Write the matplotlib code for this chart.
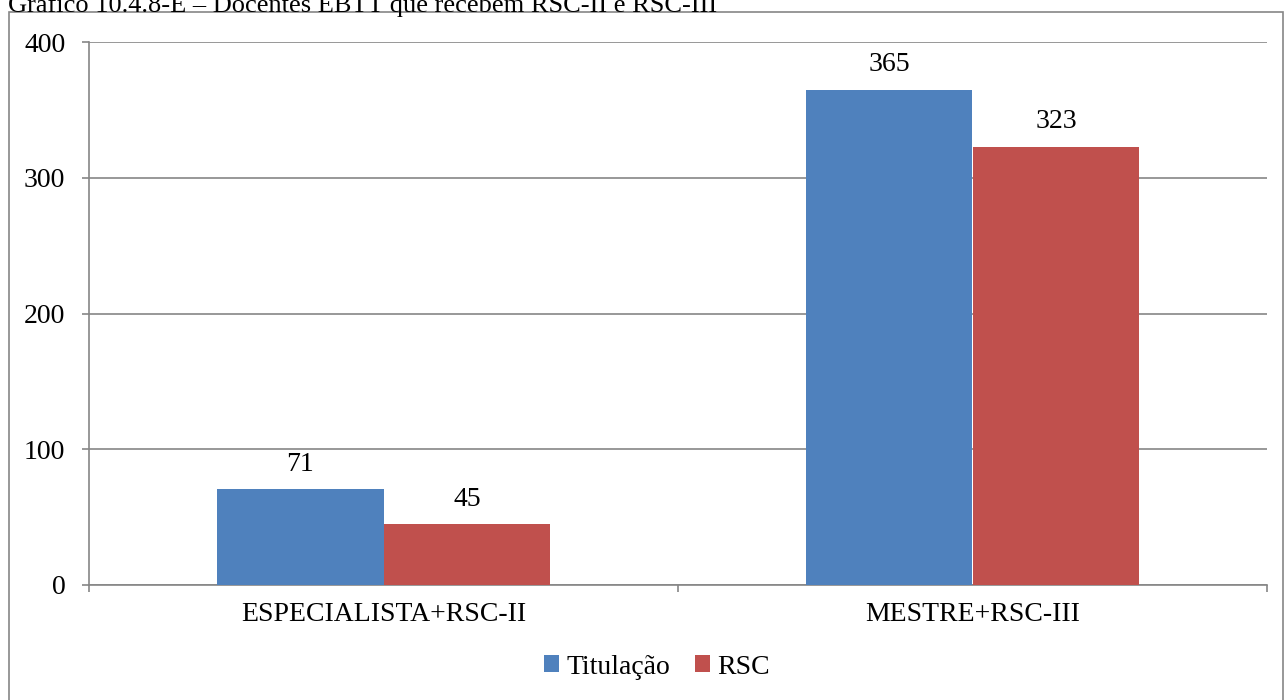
import matplotlib
matplotlib.use("Agg")
import matplotlib.pyplot as plt
from matplotlib.patches import Rectangle
import numpy as np

title = "Gráfico 10.4.8-E – Docentes EBTT que recebem RSC-II e RSC-III"
categories = ["ESPECIALISTA+RSC-II", "MESTRE+RSC-III"]
series_names = ["Titulação", "RSC"]
titulacao = [71, 365]
rsc = [45, 323]
yticks = [0, 100, 200, 300, 400]

BLUE = "#4F81BD"
RED = "#C0504D"
GRAY = "#868686"
FS = 20

plt.rcParams["font.family"] = ["Liberation Serif", "DejaVu Serif"]

W, H = 1284, 700
fig = plt.figure(figsize=(W / 100, H / 100), dpi=100)

# outer chart frame
fig.patches.append(Rectangle((9 / W, -0.05), (1283 - 9) / W, 1 - 12 / H + 0.05,
                             transform=fig.transFigure, fill=False,
                             edgecolor=GRAY, linewidth=1.2))

fig.text(8 / W, 1 - 12 / H, title, fontsize=19, ha="left", va="baseline")

ax = fig.add_axes([89 / W, 1 - 585 / H, (1267 - 89) / W, (585 - 42) / H])

x = np.arange(len(categories))
w = 0.2835
b1 = ax.bar(x - w / 2, titulacao, width=w, color=BLUE, label=series_names[0], zorder=3)
b2 = ax.bar(x + w / 2, rsc, width=w, color=RED, label=series_names[1], zorder=3)

for bars, vals in ((b1, titulacao), (b2, rsc)):
    for rect, v in zip(bars, vals):
        ax.annotate(str(v), (rect.get_x() + rect.get_width() / 2, v),
                    xytext=(0, 13), textcoords="offset points",
                    ha="center", va="baseline", fontsize=FS)

ax.set_xlim(-0.5, len(categories) - 0.5)
ax.set_ylim(0, 400)
ax.set_yticks(yticks)
ax.set_yticklabels([str(t) for t in yticks])
ax.yaxis.grid(True, color=GRAY, linewidth=1.2, zorder=0)
ax.set_axisbelow(True)

ax.set_xticks(x)
ax.set_xticklabels(categories)
ax.set_xticks(np.arange(-0.5, len(categories)), minor=True)
ax.tick_params(axis="x", which="major", length=0, pad=12, labelsize=FS)
ax.tick_params(axis="x", which="minor", length=5, width=1.2, color=GRAY, direction="out")
ax.tick_params(axis="y", length=5, width=1.2, color=GRAY, pad=12, labelsize=FS)

for s in ("top", "right"):
    ax.spines[s].set_visible(False)
for s in ("left", "bottom"):
    ax.spines[s].set_color(GRAY)
    ax.spines[s].set_linewidth(1.2)

fig.legend(loc="center", bbox_to_anchor=(657 / W, 1 - 667 / H), ncol=2,
           frameon=False, fontsize=FS, handlelength=0.55, handleheight=0.55,
           handletextpad=0.25, columnspacing=0.9)

fig.savefig("out.png", dpi=100)
